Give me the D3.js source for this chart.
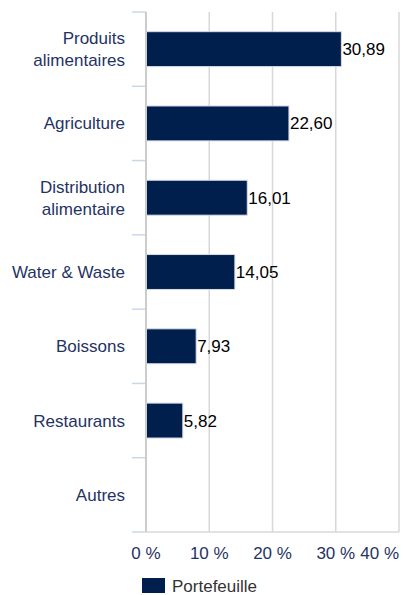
<!DOCTYPE html>
<html>
<head>
<meta charset="utf-8">
<script src="https://cdn.jsdelivr.net/npm/d3@7"></script>
<style>
  body { margin: 0; background: #fff; }
  svg { display: block; font-family: "Liberation Sans", Arial, sans-serif; }
</style>
</head>
<body>
<script>
// data
const categories = [["Produits", "alimentaires"], ["Agriculture"], ["Distribution", "alimentaire"],
    ["Water & Waste"], ["Boissons"], ["Restaurants"], ["Autres"]];
const values = [30.89, 22.60, 16.01, 14.05, 7.93, 5.82, null];
const xTicks = [0, 10, 20, 30, 40];
const seriesName = "Portefeuille";

const width = 403, height = 595;
const margin = { top: 12, left: 146, right: 4, bottom: 63 };
const navy = "#001f4d";
const labelColor = "#1f3364";
const fs = 17;

const svg = d3.select("body").append("svg")
    .attr("width", width)
    .attr("height", height);

const x = d3.scaleLinear()
    .domain([0, 40])
    .range([margin.left, width - margin.right]);

const keys = categories.map((c, i) => i);
const y = d3.scaleBand()
    .domain(keys)
    .range([margin.top, height - margin.bottom])
    .paddingInner(0.53)
    .paddingOuter(0.265);

const plotBottom = height - margin.bottom;

// vertical grid
svg.append("g")
    .selectAll("line")
    .data(xTicks.slice(1))
    .join("line")
    .attr("x1", d => x(d)).attr("x2", d => x(d))
    .attr("y1", margin.top).attr("y2", plotBottom)
    .attr("stroke", "#d8d8d8")
    .attr("stroke-width", 1.5);

// category tick marks at band boundaries
const step = y.step();
const bounds = d3.range(categories.length + 1).map(i => margin.top + i * step);
svg.append("g")
    .selectAll("line")
    .data(bounds)
    .join("line")
    .attr("x1", margin.left - 14).attr("x2", margin.left)
    .attr("y1", d => d).attr("y2", d => d)
    .attr("stroke", "#ccd6eb")
    .attr("stroke-width", 1.5);

// bars
svg.append("g")
    .selectAll("rect")
    .data(values.map((v, i) => ({ v, i })).filter(d => d.v != null))
    .join("rect")
    .attr("x", x(0))
    .attr("y", d => y(d.i))
    .attr("width", d => x(d.v) - x(0))
    .attr("height", y.bandwidth())
    .attr("fill", navy)
    .attr("stroke", "#d6dcea")
    .attr("stroke-width", 1);

// value labels
svg.append("g")
    .selectAll("text")
    .data(values.map((v, i) => ({ v, i })).filter(d => d.v != null))
    .join("text")
    .attr("x", d => x(d.v) + 1)
    .attr("y", d => y(d.i) + y.bandwidth() / 2)
    .attr("dy", "0.35em")
    .attr("font-size", fs)
    .attr("fill", "#000")
    .text(d => d3.format(".2f")(d.v).replace(".", ","));

// y axis line
svg.append("line")
    .attr("x1", margin.left).attr("x2", margin.left)
    .attr("y1", margin.top).attr("y2", plotBottom)
    .attr("stroke", "#cccccc")
    .attr("stroke-width", 2);

// bottom axis line
svg.append("line")
    .attr("x1", margin.left).attr("x2", width - margin.right)
    .attr("y1", plotBottom).attr("y2", plotBottom)
    .attr("stroke", "#d8d8d8")
    .attr("stroke-width", 1.5);

// category labels
const catG = svg.append("g");
categories.forEach((lines, i) => {
    const cy = y(i) + y.bandwidth() / 2;
    const t = catG.append("text")
        .attr("x", 125)
        .attr("y", cy)
        .attr("text-anchor", "end")
        .attr("font-size", fs)
        .attr("fill", labelColor);
    lines.forEach((ln, j) => {
        t.append("tspan")
            .attr("x", 125)
            .attr("y", cy + (j - (lines.length - 1) / 2) * 22)
            .attr("dy", "0.35em")
            .text(ln);
    });
});

// x tick labels
svg.append("g")
    .selectAll("text")
    .data(xTicks)
    .join("text")
    .attr("x", d => x(d))
    .attr("y", 553)
    .attr("dy", "0.35em")
    .attr("text-anchor", d => d === 40 ? "end" : "middle")
    .attr("font-size", fs)
    .attr("fill", labelColor)
    .text(d => d + " %");

// legend
const legend = svg.append("g").attr("transform", "translate(142,578)");
legend.append("rect")
    .attr("width", 23).attr("height", 15)
    .attr("fill", navy);
legend.append("text")
    .attr("x", 30).attr("y", 8)
    .attr("dy", "0.35em")
    .attr("font-size", fs)
    .attr("fill", "#333")
    .text(seriesName);
</script>
</body>
</html>
